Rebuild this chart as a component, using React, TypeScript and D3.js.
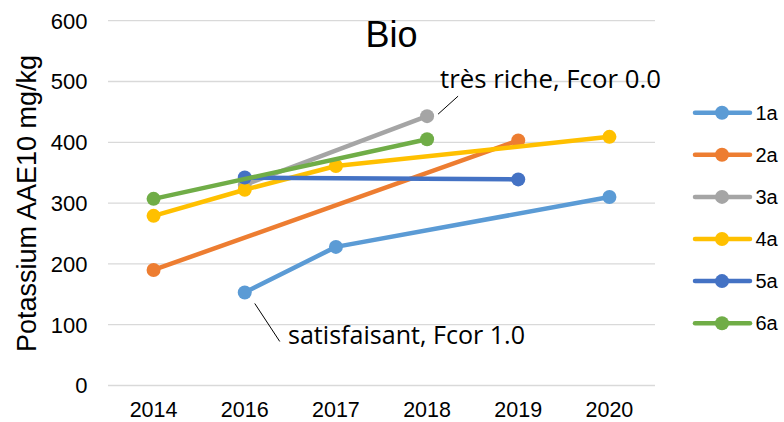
import React from "react";
import * as d3 from "d3";

const categories = ["2014", "2016", "2017", "2018", "2019", "2020"];
const seriesNames = ["1a", "2a", "3a", "4a", "5a", "6a"];
const colors = ["#5B9BD5", "#ED7D31", "#A5A5A5", "#FFC000", "#4472C4", "#70AD47"];
const v1a = [null, 153, 228, null, null, 310];
const v2a = [190, null, null, null, 403, null];
const v3a = [null, 330, null, 443, null, null];
const v4a = [279, 322, 361, null, null, 409];
const v5a = [null, 342, null, null, 339, null];
const v6a = [307, null, null, 405, null, null];
const seriesValues = [v1a, v2a, v3a, v4a, v5a, v6a];
const yTicks = [0, 100, 200, 300, 400, 500, 600];

export default function App() {
  const W = 784, H = 422;
  const left = 108, right = 655, top = 20.7, bottom = 385.5;
  const x = d3.scaleBand().domain(categories).range([left, right]);
  const y = d3.scaleLinear().domain([0, 600]).range([bottom, top]);
  const cx = (c: string) => (x(c) as number) + x.bandwidth() / 2;
  const line = d3.line<{ c: string; v: number }>().x(d => cx(d.c)).y(d => y(d.v));
  const font = "Liberation Sans, Arial, sans-serif";
  const annFont = "Open Sans, sans-serif";

  return (
    <svg width={W} height={H} style={{ position: "absolute", left: 0, top: 0, background: "#fff" }}>
      {yTicks.map(t => (
        <g key={t}>
          <line x1={left} x2={right} y1={y(t)} y2={y(t)} stroke="#D9D9D9" strokeWidth={1.3} />
          <text x={87.5} y={y(t)} dy="0.36em" textAnchor="end" fontFamily={font} fontSize={22} fill="#000">{t}</text>
        </g>
      ))}
      {categories.map(c => (
        <text key={c} x={cx(c)} y={417} textAnchor="middle" fontFamily={font} fontSize={21.5} fill="#000">{c}</text>
      ))}
      <text transform={`translate(35.5,203.5) rotate(-90)`} textAnchor="middle" fontFamily={font} fontSize={27} fill="#000">Potassium AAE10 mg/kg</text>
      <text x={391.5} y={46.7} textAnchor="middle" fontFamily={font} fontSize={36} fill="#000">Bio</text>
      {seriesValues.map((vals, i) => {
        const pts = vals.map((v, j) => ({ c: categories[j], v: v as number })).filter(d => d.v != null);
        return (
          <g key={i}>
            <path d={line(pts) || ""} fill="none" stroke={colors[i]} strokeWidth={4.5} strokeLinejoin="round" strokeLinecap="round" />
            {pts.map(p => (
              <circle key={p.c} cx={cx(p.c)} cy={y(p.v)} r={7} fill={colors[i]} />
            ))}
          </g>
        );
      })}
      <line x1={cx("2018") + 11} y1={y(443) - 2} x2={cx("2018") + 31} y2={y(443) - 20} stroke="#000" strokeWidth={1} />
      <text x={440} y={88} fontFamily={annFont} fontSize={25.5} textLength={221} lengthAdjust="spacingAndGlyphs" fill="#000">très riche, Fcor 0.0</text>
      <line x1={cx("2016") + 10} y1={y(153) + 11} x2={cx("2016") + 35} y2={y(153) + 49} stroke="#000" strokeWidth={1} />
      <text x={288} y={343.5} fontFamily={annFont} fontSize={25.5} textLength={237} lengthAdjust="spacingAndGlyphs" fill="#000">satisfaisant, Fcor 1.0</text>
      {seriesNames.map((n, i) => {
        const ly = 112.7 + i * 42.1;
        return (
          <g key={n}>
            <line x1={695} x2={750} y1={ly} y2={ly} stroke={colors[i]} strokeWidth={4.5} strokeLinecap="round" />
            <circle cx={722} cy={ly} r={7} fill={colors[i]} />
            <text x={755.5} y={ly} dy="0.36em" fontFamily={font} fontSize={20} fill="#000">{n}</text>
          </g>
        );
      })}
    </svg>
  );
}
